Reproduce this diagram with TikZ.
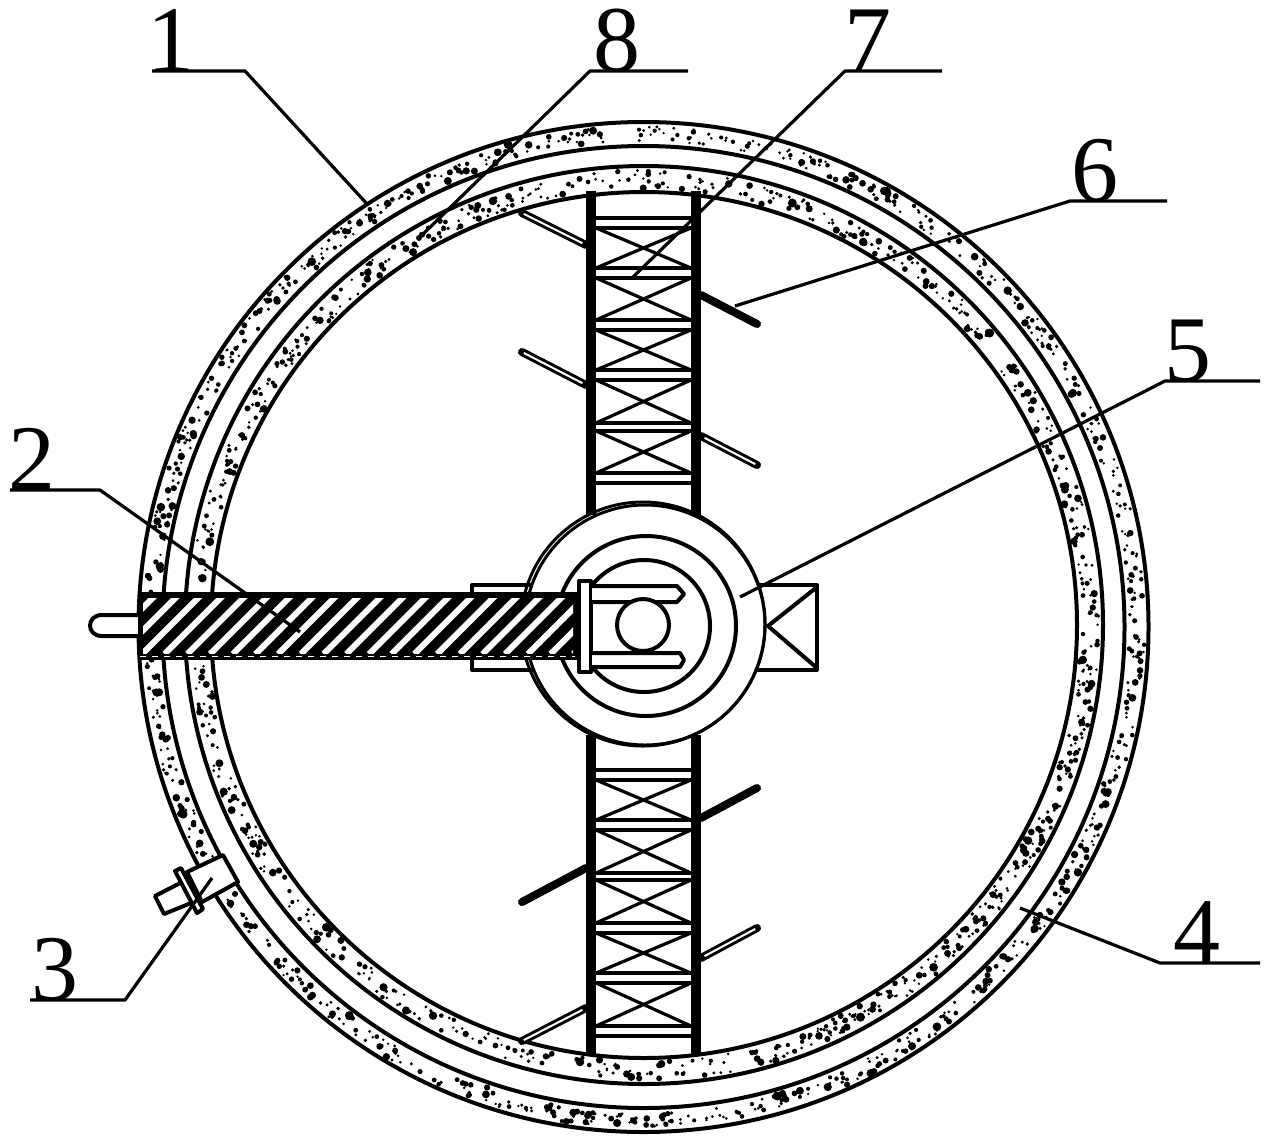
\documentclass[tikz,border=0pt]{standalone}
\usepackage{fontspec}
\setmainfont{Liberation Serif}
\tikzset{
  ringline/.style={draw=black,line width=2pt},
  bar/.style={draw=black,line width=5pt,line cap=butt},
  rung/.style={draw=black,line width=1.9pt},
  cross/.style={draw=black,line width=1.6pt},
  bladeouter/.style={draw=black,line width=4pt,line cap=round},
  bladeinner/.style={draw=white,line width=1pt,shorten <=1pt,shorten >=2pt},
  heavyblade/.style={draw=black,line width=4pt,line cap=round},
  part/.style={draw=black,line width=2pt,fill=white,line join=round},
  hubline/.style={draw=black,line width=1.5pt},
  lead/.style={draw=black,line width=1.6pt,line join=round},
  num/.style={font=\fontsize{47}{47}\selectfont,anchor=base,inner sep=0pt},
  speck/.style={fill=black,draw=none}
}
\begin{document}
\begin{tikzpicture}[x=0.5pt,y=-0.5pt]
\useasboundingbox (0,0) rectangle (1267,1141);
\fill[white] (0,0) rectangle (1267,1141);

% rings
\draw[ringline] (643.5,627) circle[radius=505];
\draw[ringline] (643.5,627) circle[radius=481];
\draw[ringline] (644,625) circle[radius=459];
\draw[ringline] (644,625) circle[radius=433];

% speckles
\pgfmathsetseed{4711}
\foreach \i in {1,...,850}{
  \pgfmathsetmacro{\ang}{rnd*360}
  \pgfmathsetmacro{\rad}{486+rnd*15}
  \pgfmathsetmacro{\dotr}{1.3+rnd*rnd*3.4}
  \fill[speck] (643.5,627) ++(\ang:\rad*0.5pt) circle[radius=\dotr];
}
\foreach \i in {1,...,850}{
  \pgfmathsetmacro{\ang}{rnd*360}
  \pgfmathsetmacro{\rad}{437+rnd*18}
  \pgfmathsetmacro{\dotr}{1.3+rnd*rnd*3.4}
  \fill[speck] (644,625) ++(\ang:\rad*0.5pt) circle[radius=\dotr];
}

% blades
\draw[heavyblade] (701,295) -- (757,324);
\draw[heavyblade] (701,818) -- (757,788);
\draw[heavyblade] (522,902) -- (586,868);
\foreach \xa/\ya/\xb/\yb in {522/213/586/245,522/352/586/385,757/465/701/436,757/928/701/958,522/1041/586/1008}{
  \draw[bladeouter] (\xa,\ya) -- (\xb,\yb);
  \draw[bladeinner] (\xa,\ya) -- (\xb,\yb);
}

% column rungs
\foreach \y in {218,228,268,278,320,330,370,380,423,431,473,483,
                770,780,820,830,873,880,923,933,973,983,1026,1036}{
  \draw[rung] (591,\y) -- (696,\y);
}
\foreach \a/\b in {228/268,278/320,330/370,380/423,431/473,
                   780/820,830/873,880/923,933/973,983/1026}{
  \draw[cross] (596,\a) -- (691,\b);
  \draw[cross] (691,\a) -- (596,\b);
}
\draw[bar] (591,191) -- (591,515);
\draw[bar] (696,191) -- (696,515);
\draw[bar] (591,735) -- (591,1056);
\draw[bar] (696,735) -- (696,1056);

% right square, collar
\draw[part] (740,585) rectangle (817,670);
\draw[part,fill=none] (817,587) -- (768,626) -- (817,668);
\draw[part] (472,585) rectangle (540,670);

% hub
\draw[part,line width=1.5pt] (645,625) circle[radius=120];
\draw[hubline] (643,624) circle[radius=122];
\draw[part,fill=none] (646,626) circle[radius=90];
\begin{scope}
  \clip (592,500) rectangle (800,750);
  \draw[part,fill=none] (644,626) circle[radius=66];
\end{scope}

% handle and hatched bar
\draw[part] (138,615) -- (102,615) .. controls (86,615) and (86,636) .. (102,636) -- (138,636);
\fill[black] (138,592) rectangle (577,660);
\begin{scope}
  \clip (143,598) rectangle (573,653);
  \foreach \x in {-3,...,19}{
    \draw[white,line width=3pt] ({142+22.7*\x},654) -- ({142+22.7*\x+60},594);
  }
\end{scope}
\draw[white,line width=0.5pt,dashed] (140,656) -- (575,656);

% plate and prongs
\draw[part] (579,581) rectangle (591,672);
\draw[part] (592,586) -- (677,586) -- (684,594) -- (677,602) -- (592,602);
\draw[part] (592,653) -- (680,653) -- (684,660) -- (680,667) -- (592,667);
\draw[part] (643,625) circle[radius=26];

% part 3
\draw[part] (187,872) -- (223,855) -- (238,882) -- (202,902) -- cycle;
\draw[part] (155,896) -- (184,881) -- (196,901) -- (164,914) -- cycle;
\draw[part] (175,871) -- (181,868) -- (203,909) -- (197,913) -- cycle;

% labels
\node[num] (n1) at (171,71) {1};
\node[num] (n8) at (617,71) {8};
\node[num] (n7) at (868,71) {7};
\node[num] (n6) at (1095,201) {6};
\node[num] (n5) at (1188,381) {5};
\node[num] (n2) at (32,490) {2};
\node[num] (n3) at (55,1000) {3};
\node[num] (n4) at (1197,963) {4};

% leaders
\coordinate (e1) at (368,205);
\coordinate (e8) at (420,237);
\coordinate (e7) at (633,277);
\coordinate (e6) at (735,306);
\coordinate (e5) at (740,597);
\coordinate (e2) at (300,632);
\coordinate (e3) at (212,878);
\coordinate (e4) at (1020,908);
\draw[lead] (152,0 |- n1.base) -- (245,0 |- n1.base) -- (e1);
\draw[lead] (688,0 |- n8.base) -- (590,0 |- n8.base) -- (e8);
\draw[lead] (942,0 |- n7.base) -- (845,0 |- n7.base) -- (e7);
\draw[lead] (1167,0 |- n6.base) -- (1070,0 |- n6.base) -- (e6);
\draw[lead] (1260,0 |- n5.base) -- (1165,0 |- n5.base) -- (e5);
\draw[lead] (10,0 |- n2.base) -- (100,0 |- n2.base) -- (e2);
\draw[lead] (30,0 |- n3.base) -- (125,0 |- n3.base) -- (e3);
\draw[lead] (1260,0 |- n4.base) -- (1160,0 |- n4.base) -- (e4);
\end{tikzpicture}
\end{document}
